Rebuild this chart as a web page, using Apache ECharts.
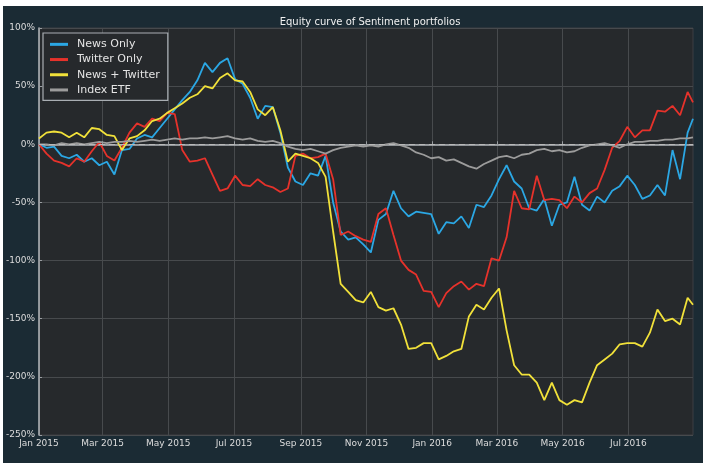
<!DOCTYPE html>
<html>
<head>
<meta charset="utf-8">
<script src="https://cdn.jsdelivr.net/npm/echarts@6/dist/echarts.min.js"></script>
<style>
  html, body { margin: 0; padding: 0; background: #fff; }
  #chart { position: absolute; left: 3px; top: 6px; width: 700px; height: 457px; }
</style>
</head>
<body>
<div id="chart"></div>
<script>
// weekly samples (every 7 days from 2015-01-01), last one on 2016-08-30
const startDate = '2015-01-01';
const dayCount = 608;
const sampleStep = 7;

const newsOnly = [
  0, -3, -2, -10, -12, -9, -15, -12, -18, -15, -26, -5, -4, 5, 8, 6, 14, 22, 30, 38,
  45, 55, 70, 62, 70, 74, 56, 52, 40, 22, 33, 32, 10, -20, -32, -35, -25, -27, -10, -50,
  -75, -82, -80, -86, -93, -65, -60, -40, -55, -62, -58, -59, -60, -77, -67, -68, -62, -72, -52, -54,
  -44, -30, -18, -32, -38, -55, -57, -47, -70, -52, -50, -28, -52, -57, -45, -50, -40, -36, -27, -35,
  -47, -44, -35, -44, -5, -30, 10, 22
];
const twitterOnly = [
  0, -8, -14, -16, -19, -12, -15, -6, 2, -10, -14, -3, 10, 18, 15, 22, 20, 27, 26, -5,
  -15, -14, -12, -26, -40, -38, -27, -35, -36, -30, -35, -37, -41, -38, -10, -8, -12, -11, -8, -30,
  -78, -75, -79, -82, -84, -60, -55, -78, -100, -108, -112, -126, -127, -140, -128, -122, -118, -125, -120, -122,
  -98, -100, -80, -40, -55, -56, -27, -48, -47, -48, -55, -45, -50, -42, -38, -22, -3, 3, 15, 6,
  12, 12, 29, 28, 33, 25, 45, 36
];
const newsTwitter = [
  5, 10, 11, 10, 6, 10, 6, 14, 13, 8, 7, -5, 5, 7, 12, 20, 22, 27, 31, 35,
  40, 43, 50, 48, 57, 61, 55, 54, 45, 30, 25, 32, 12, -15, -8, -10, -12, -16, -28, -75,
  -120, -127, -134, -136, -127, -140, -143, -141, -155, -176, -175, -171, -171, -185, -182, -178, -176, -148, -138, -142,
  -132, -124, -160, -190, -198, -198, -205, -220, -205, -220, -224, -220, -222, -205, -190, -185, -180, -172, -171, -171,
  -174, -162, -142, -152, -150, -155, -132, -138
];
const indexEtf = [
  0, 0, -1, 1, 0, 1, 0, 1, 2, 1, 2, 2, 3, 2, 3, 4, 3, 4, 5, 4,
  5, 5, 6, 5, 6, 7, 5, 4, 5, 3, 2, 3, 1, -2, -4, -5, -4, -6, -8, -5,
  -3, -2, -1, -2, -1, -2, 0, 1, -1, -3, -7, -9, -12, -11, -14, -13, -16, -19, -21, -17,
  -14, -11, -10, -12, -9, -8, -5, -4, -6, -5, -7, -6, -3, -1, 0, 1, -1, -3, 0, 2,
  2, 3, 3, 4, 4, 5, 5, 6
];
const seriesNames = ['News Only', 'Twitter Only', 'News + Twitter', 'Index ETF'];
const seriesColors = ['#2ba7e4', '#e6322b', '#f1e13a', '#9c9c9c'];
const yTicks = { min: -250, max: 100, interval: 50 };
const monthNames = ['Jan', 'Feb', 'Mar', 'Apr', 'May', 'Jun', 'Jul', 'Aug', 'Sep', 'Oct', 'Nov', 'Dec'];

// daily categories
const days = [];
const t0 = Date.parse(startDate + 'T00:00:00Z');
for (let i = 0; i < dayCount; i++) {
  days.push(new Date(t0 + i * 86400000).toISOString().slice(0, 10));
}

function toDaily(values) {
  const out = new Array(dayCount).fill(null);
  values.forEach((v, i) => {
    const idx = Math.min(i * sampleStep, dayCount - 1);
    out[idx] = v;
  });
  return out;
}

const isTick = (index, value) => value.slice(8) === '01' && (+value.slice(5, 7)) % 2 === 1;

const chart = echarts.init(document.getElementById('chart'));

const lines = [newsOnly, twitterOnly, newsTwitter, indexEtf].map((vals, k) => ({
  name: seriesNames[k],
  type: 'line',
  data: toDaily(vals),
  connectNulls: true,
  showSymbol: false,
  symbol: 'none',
  animation: false,
  lineStyle: { color: seriesColors[k], width: 1.8 },
  itemStyle: { color: seriesColors[k] },
}));

lines[3].markLine = {
  silent: true,
  symbol: 'none',
  label: { show: false },
  lineStyle: { color: '#b9b9b9', type: [6, 4], width: 1.2 },
  data: [{ yAxis: 0 }],
};

chart.setOption({
  backgroundColor: '#1b2b34',
  animation: false,
  title: {
    text: 'Equity curve of Sentiment portfolios',
    left: 362,
    textAlign: 'center',
    top: 6,
    textStyle: { color: '#f0f0f0', fontSize: 10, fontWeight: 'normal', fontFamily: 'DejaVu Sans' },
  },
  legend: {
    orient: 'vertical',
    left: 40,
    top: 27,
    padding: [5, 8, 4, 7],
    itemWidth: 18,
    itemHeight: 3,
    itemGap: 2.5,
    icon: 'rect',
    backgroundColor: '#26292c',
    borderColor: '#a9aeb3',
    borderWidth: 1.2,
    textStyle: { color: '#e4e4e4', fontSize: 11, fontFamily: 'DejaVu Sans', lineHeight: 12.7, padding: [0, 0, 0, 4] },
    data: seriesNames,
  },
  grid: {
    left: 35,
    top: 22,
    width: 655,
    height: 407,
    show: true,
    backgroundColor: '#26292c',
    borderColor: '#3c3f42',
    borderWidth: 1,
  },
  xAxis: {
    type: 'category',
    data: days,
    boundaryGap: false,
    axisLine: { lineStyle: { color: '#b3b7bb', width: 1.5 } },
    axisTick: { show: true, inside: true, length: 3, interval: isTick, lineStyle: { color: '#9a9ea2' } },
    splitLine: { show: true, interval: isTick, lineStyle: { color: '#474a4d', width: 1 } },
    axisLabel: {
      interval: isTick,
      margin: 4,
      color: '#dcdcdc',
      fontSize: 9,
      fontFamily: 'DejaVu Sans',
      formatter: (v) => monthNames[+v.slice(5, 7) - 1] + ' ' + v.slice(0, 4),
    },
  },
  yAxis: {
    type: 'value',
    min: yTicks.min,
    max: yTicks.max,
    interval: yTicks.interval,
    axisLine: { show: true, lineStyle: { color: '#b3b7bb', width: 1.5 } },
    axisTick: { show: true, inside: true, length: 3, lineStyle: { color: '#9a9ea2' } },
    splitLine: { show: true, lineStyle: { color: '#474a4d', width: 1 } },
    axisLabel: {
      margin: 4,
      color: '#dcdcdc',
      fontSize: 9,
      fontFamily: 'DejaVu Sans',
      formatter: '{value}%',
    },
  },
  series: lines,
});
</script>
</body>
</html>
